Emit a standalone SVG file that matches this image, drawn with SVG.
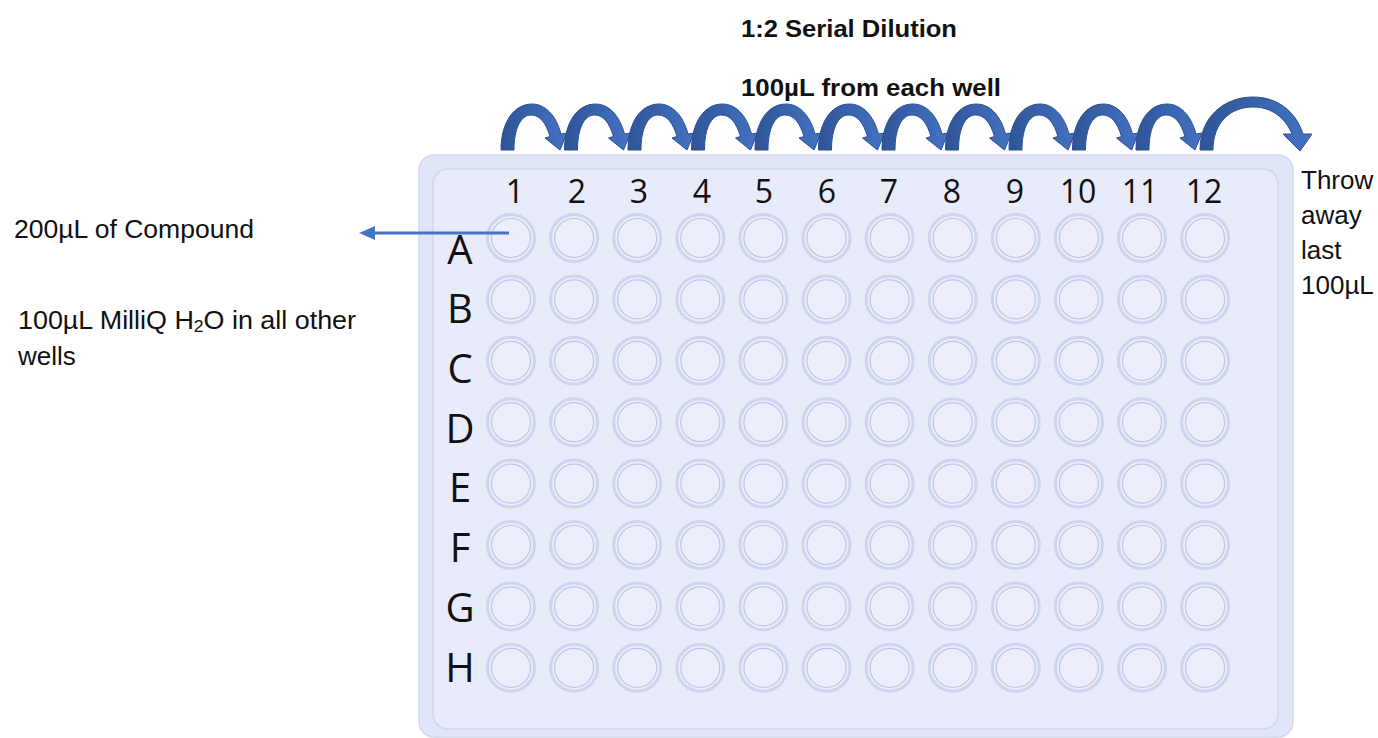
<svg xmlns="http://www.w3.org/2000/svg" xmlns:xlink="http://www.w3.org/1999/xlink" width="1378" height="738" viewBox="0 0 1378 738">
<style>
.t{font-family:"Liberation Sans",Arial,sans-serif;font-size:26px;fill:#111}
.tb{font-family:"Liberation Sans",Arial,sans-serif;font-size:24px;font-weight:bold;fill:#111}
.col{font-family:"Open Sans","Noto Sans",sans-serif;font-size:32px;fill:#111;text-anchor:middle}
.row{font-family:"Open Sans","Noto Sans",sans-serif;font-size:40px;fill:#111;text-anchor:middle}
.arc{fill:url(#ag);stroke:#2b4f8e;stroke-width:1}
</style>
<defs>
<linearGradient id="ag" x1="0" y1="0" x2="1" y2="0">
<stop offset="0" stop-color="#2f5597"/>
<stop offset="1" stop-color="#4472c4"/>
</linearGradient>
<g id="well">
<circle r="23.5" fill="#e9ecfa" stroke="#cdd4ee" stroke-width="3"/>
<circle r="19.5" fill="#eceffb" stroke="#bfc6e2" stroke-width="1.2"/>
</g>
<path id="sarc" d="M0,0 C0,-28 13,-46 31,-46 C44,-46 55,-35 60,-16 L66,-17 L59,0 L44,-12 L49,-13.5 C45,-27 39,-35 30,-35 C20,-35 13,-22 13,0 Z"/>
</defs>
<rect width="1378" height="738" fill="#fff"/>

<g id="plate">
<rect x="419" y="155" width="874" height="582" rx="15" fill="#e0e5f7" stroke="#d2d9f0" stroke-width="1.5"/>
<rect x="433" y="169" width="845" height="560" rx="15" fill="#e8ebf9" stroke="#cfd6ef" stroke-width="1.5"/>
</g>

<g id="wells">
<g id="rowA"><use href="#well" x="511" y="238"/><use href="#well" x="574.1" y="238"/><use href="#well" x="637.2" y="238"/><use href="#well" x="700.3" y="238"/><use href="#well" x="763.4" y="238"/><use href="#well" x="826.5" y="238"/><use href="#well" x="889.6" y="238"/><use href="#well" x="952.7" y="238"/><use href="#well" x="1015.8" y="238"/><use href="#well" x="1078.9" y="238"/><use href="#well" x="1142" y="238"/><use href="#well" x="1205.1" y="238"/></g>
<g id="rowB"><use href="#well" x="511" y="299.4"/><use href="#well" x="574.1" y="299.4"/><use href="#well" x="637.2" y="299.4"/><use href="#well" x="700.3" y="299.4"/><use href="#well" x="763.4" y="299.4"/><use href="#well" x="826.5" y="299.4"/><use href="#well" x="889.6" y="299.4"/><use href="#well" x="952.7" y="299.4"/><use href="#well" x="1015.8" y="299.4"/><use href="#well" x="1078.9" y="299.4"/><use href="#well" x="1142" y="299.4"/><use href="#well" x="1205.1" y="299.4"/></g>
<g id="rowC"><use href="#well" x="511" y="360.8"/><use href="#well" x="574.1" y="360.8"/><use href="#well" x="637.2" y="360.8"/><use href="#well" x="700.3" y="360.8"/><use href="#well" x="763.4" y="360.8"/><use href="#well" x="826.5" y="360.8"/><use href="#well" x="889.6" y="360.8"/><use href="#well" x="952.7" y="360.8"/><use href="#well" x="1015.8" y="360.8"/><use href="#well" x="1078.9" y="360.8"/><use href="#well" x="1142" y="360.8"/><use href="#well" x="1205.1" y="360.8"/></g>
<g id="rowD"><use href="#well" x="511" y="422.2"/><use href="#well" x="574.1" y="422.2"/><use href="#well" x="637.2" y="422.2"/><use href="#well" x="700.3" y="422.2"/><use href="#well" x="763.4" y="422.2"/><use href="#well" x="826.5" y="422.2"/><use href="#well" x="889.6" y="422.2"/><use href="#well" x="952.7" y="422.2"/><use href="#well" x="1015.8" y="422.2"/><use href="#well" x="1078.9" y="422.2"/><use href="#well" x="1142" y="422.2"/><use href="#well" x="1205.1" y="422.2"/></g>
<g id="rowE"><use href="#well" x="511" y="483.6"/><use href="#well" x="574.1" y="483.6"/><use href="#well" x="637.2" y="483.6"/><use href="#well" x="700.3" y="483.6"/><use href="#well" x="763.4" y="483.6"/><use href="#well" x="826.5" y="483.6"/><use href="#well" x="889.6" y="483.6"/><use href="#well" x="952.7" y="483.6"/><use href="#well" x="1015.8" y="483.6"/><use href="#well" x="1078.9" y="483.6"/><use href="#well" x="1142" y="483.6"/><use href="#well" x="1205.1" y="483.6"/></g>
<g id="rowF"><use href="#well" x="511" y="545"/><use href="#well" x="574.1" y="545"/><use href="#well" x="637.2" y="545"/><use href="#well" x="700.3" y="545"/><use href="#well" x="763.4" y="545"/><use href="#well" x="826.5" y="545"/><use href="#well" x="889.6" y="545"/><use href="#well" x="952.7" y="545"/><use href="#well" x="1015.8" y="545"/><use href="#well" x="1078.9" y="545"/><use href="#well" x="1142" y="545"/><use href="#well" x="1205.1" y="545"/></g>
<g id="rowG"><use href="#well" x="511" y="606.4"/><use href="#well" x="574.1" y="606.4"/><use href="#well" x="637.2" y="606.4"/><use href="#well" x="700.3" y="606.4"/><use href="#well" x="763.4" y="606.4"/><use href="#well" x="826.5" y="606.4"/><use href="#well" x="889.6" y="606.4"/><use href="#well" x="952.7" y="606.4"/><use href="#well" x="1015.8" y="606.4"/><use href="#well" x="1078.9" y="606.4"/><use href="#well" x="1142" y="606.4"/><use href="#well" x="1205.1" y="606.4"/></g>
<g id="rowH"><use href="#well" x="511" y="667.8"/><use href="#well" x="574.1" y="667.8"/><use href="#well" x="637.2" y="667.8"/><use href="#well" x="700.3" y="667.8"/><use href="#well" x="763.4" y="667.8"/><use href="#well" x="826.5" y="667.8"/><use href="#well" x="889.6" y="667.8"/><use href="#well" x="952.7" y="667.8"/><use href="#well" x="1015.8" y="667.8"/><use href="#well" x="1078.9" y="667.8"/><use href="#well" x="1142" y="667.8"/><use href="#well" x="1205.1" y="667.8"/></g>
</g>

<g id="col-labels">
<text class="col" x="515" y="203">1</text>
<text class="col" x="577" y="203">2</text>
<text class="col" x="639" y="203">3</text>
<text class="col" x="702" y="203">4</text>
<text class="col" x="764" y="203">5</text>
<text class="col" x="827" y="203">6</text>
<text class="col" x="889" y="203">7</text>
<text class="col" x="952" y="203">8</text>
<text class="col" x="1015" y="203">9</text>
<text class="col" x="1078" y="203">10</text>
<text class="col" x="1140" y="203">11</text>
<text class="col" x="1204" y="203">12</text>
</g>

<g id="row-labels">
<text class="row" x="460" y="264">A</text>
<text class="row" x="460" y="323">B</text>
<text class="row" x="460" y="383">C</text>
<text class="row" x="460" y="443">D</text>
<text class="row" x="460" y="502">E</text>
<text class="row" x="460" y="562">F</text>
<text class="row" x="460" y="622">G</text>
<text class="row" x="460" y="682">H</text>
</g>

<g id="connectors">
<g id="dilution-arrows" class="arc">
<use href="#sarc" x="501" y="150"/>
<use href="#sarc" x="564.5" y="150"/>
<use href="#sarc" x="628" y="150"/>
<use href="#sarc" x="691.5" y="150"/>
<use href="#sarc" x="755" y="150"/>
<use href="#sarc" x="818.5" y="150"/>
<use href="#sarc" x="882" y="150"/>
<use href="#sarc" x="945.5" y="150"/>
<use href="#sarc" x="1009" y="150"/>
<use href="#sarc" x="1072.5" y="150"/>
<use href="#sarc" x="1136" y="150"/>
<path transform="translate(1200,150)" d="M0,0 C0,-33 24,-53 53,-53 C78,-53 96,-38 103,-16 L112,-16 L100,1 L83,-16 L92,-16 C85,-33 71,-43 53,-43 C30,-43 13,-27 13,0 Z"/>
</g>
<g id="compound-arrow">
<line x1="509" y1="233" x2="372" y2="233" stroke="#4472c4" stroke-width="3"/>
<polygon points="359,233 375,226 375,240" fill="#4472c4"/>
</g>
</g>

<g id="title">
<text class="tb" x="741" y="37" textLength="216" lengthAdjust="spacingAndGlyphs">1:2 Serial Dilution</text>
<text class="tb" x="741" y="96" textLength="260" lengthAdjust="spacingAndGlyphs">100µL from each well</text>
</g>

<g id="left-notes">
<text class="t" x="14" y="238" textLength="240" lengthAdjust="spacingAndGlyphs">200µL of Compound</text>
<text class="t" x="18" y="329" textLength="338" lengthAdjust="spacingAndGlyphs">100µL MilliQ H<tspan font-size="17" dy="3">2</tspan><tspan dy="-3">O in all other</tspan></text>
<text class="t" x="18" y="365">wells</text>
</g>

<g id="right-note">
<text class="t" x="1301" y="189">Throw</text>
<text class="t" x="1301" y="224">away</text>
<text class="t" x="1301" y="259">last</text>
<text class="t" x="1301" y="294">100µL</text>
</g>
</svg>
